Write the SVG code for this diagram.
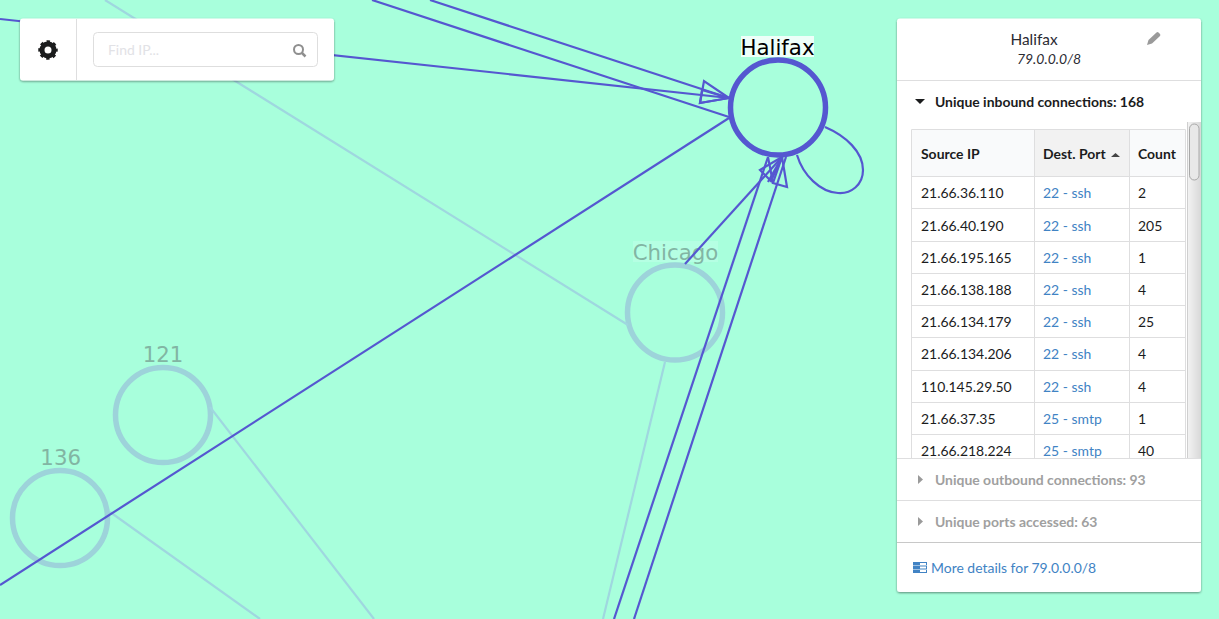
<svg xmlns="http://www.w3.org/2000/svg" width="1219" height="619" viewBox="0 0 1219 619">
<defs>
<filter id="sh" x="-5%" y="-5%" width="110%" height="110%"><feDropShadow dx="0" dy="1" stdDeviation="1.200" flood-color="#000" flood-opacity="0.45"/></filter>
<clipPath id="tbl"><rect x="897" y="120" width="304" height="338"/></clipPath>
<linearGradient id="sb" x1="0" x2="1" y1="0" y2="0"><stop offset="0" stop-color="#f4f4f4"/><stop offset="1" stop-color="#d8d8d8"/></linearGradient>
<style>
.bg{fill:#a8ffdc}
.dk{stroke:#5557d0;stroke-width:2.200;fill:none}
.lt{stroke:#9fd7df;stroke-width:2.200;fill:none}
.ah{stroke:#5557d0;stroke-width:2.200;fill:none;stroke-linejoin:miter}
.node-dim{fill:none;stroke:#9dd3da;stroke-width:5.500}
.node-hot{fill:none;stroke:#5557d0;stroke-width:5.500}
.lbl{font-family:"DejaVu Sans",sans-serif;font-size:21.300px;text-anchor:middle}
.dimtxt{fill:#82b5a3}
.ui{font-family:Lato,"Open Sans",sans-serif;font-size:13.950px;fill:#1b1c1d}
.b{font-weight:700}
.lnk{fill:#4183c4}
.g{fill:#a0a0a0;font-weight:700}
.card{fill:#fff}
.hr{stroke:#dededf;stroke-width:1;fill:none}
</style>
</defs>
<rect class="bg" width="1219" height="619"/>
<g id="node-chicago">
<rect x="633" y="241" width="85" height="21" fill="#b5ffe3"/>
<circle class="node-dim" cx="675" cy="312.500" r="47.500"/>
<text class="lbl dimtxt" x="675.500" y="260">Chicago</text>
</g>
<g id="node-121">
<circle class="node-dim" cx="163" cy="415" r="47.500"/>
<text class="lbl dimtxt" x="163" y="362">121</text>
</g>
<g id="node-136">
<circle class="node-dim" cx="60" cy="518" r="47.500"/>
<text class="lbl dimtxt" x="60.700" y="465">136</text>
</g>
<g id="connectors">
<line class="lt" x1="105" y1="0" x2="628" y2="325"/>
<line class="lt" x1="665" y1="362" x2="603" y2="619"/>
<line class="lt" x1="210" y1="407" x2="374" y2="619"/>
<line class="lt" x1="110" y1="512" x2="260" y2="619"/>
<line class="dk" x1="0" y1="19" x2="729" y2="98"/>
<line class="dk" x1="430" y1="0" x2="729" y2="98"/>
<line class="dk" x1="372" y1="0" x2="729" y2="117"/>
<line class="dk" x1="0" y1="585" x2="729" y2="118"/>
<line class="dk" x1="685" y1="264" x2="782" y2="157"/>
<line class="dk" x1="614" y1="619" x2="768" y2="157"/>
<line class="dk" x1="634" y1="619" x2="786" y2="157"/>
<path class="dk" d="M825 127C846 136 863 152 863 170C863 185 851 194 838 193C820 192 803 175 797 155"/>
<polygon class="ah" points="729,98 704,81 700,103"/>
<polygon class="ah" points="729,98 702,90 700,103"/>
<polygon class="ah" points="782,157 760,170 771,181"/>
<polygon class="ah" points="782,157 773,183 787,187"/>
<line class="ah" x1="782" y1="157" x2="768" y2="182"/>
<line class="ah" x1="768" y1="157" x2="773" y2="183"/>
</g>
<g id="node-halifax">
<rect x="741" y="36" width="73" height="21" fill="#eefff9"/>
<circle class="node-hot" cx="778" cy="107.500" r="47.500"/>
<text class="lbl" x="777.500" y="54.500" fill="#000">Halifax</text>
</g>
<g id="toolbar">
<rect class="card" x="20" y="18.500" width="314" height="62" rx="3" filter="url(#sh)"/>
<line class="hr" x1="76.500" y1="19" x2="76.500" y2="80"/>
<circle cx="48" cy="50" r="6" fill="none" stroke="#1b1c1d" stroke-width="5"/>
<circle cx="48" cy="50" r="8.500" fill="none" stroke="#1b1c1d" stroke-width="2.500" stroke-dasharray="3.340 3.340" stroke-dashoffset="1.670"/>
<rect x="93.500" y="32.500" width="224" height="34" rx="4" fill="#fff" stroke="#dedede"/>
<text class="ui" x="108" y="55" style="fill:#e2e2e6">Find IP...</text>
<circle cx="298.500" cy="49.500" r="4.500" fill="none" stroke="#8f8f8f" stroke-width="2"/><line x1="302" y1="53" x2="305.500" y2="56.500" stroke="#8f8f8f" stroke-width="2.500"/>
</g>
<g id="detail-panel">
<rect class="card" x="897" y="18.500" width="304" height="573.500" rx="3" filter="url(#sh)"/>
<text class="ui" x="1034" y="45" text-anchor="middle" style="fill:#2b2b33;font-size:15.400px">Halifax</text>
<text class="ui" x="1049" y="64" text-anchor="middle" font-style="italic" style="fill:#2b2b33">79.0.0.0/8</text>
<path d="M1147 45l1.500-5 8-7.500q1-.8 2 0l1.500 1.500q.8 1 0 2l-8 7.500z" fill="#9a9a9a"/>
<line class="hr" x1="897" y1="80.500" x2="1201" y2="80.500"/>
<path d="M915 99h10l-5 5z" fill="#1b1c1d"/>
<text class="ui b" x="935" y="107">Unique inbound connections: 168</text>
<g clip-path="url(#tbl)">
<rect x="1035" y="130" width="94" height="47" fill="#f2f2f2"/>
<rect x="912" y="130" width="123" height="47" fill="#f9fafb"/>
<rect x="1130" y="130" width="55" height="47" fill="#f9fafb"/>
<g class="hr">
<path d="M911.500 129.500H1185.500V470M911.500 129.500V470M1034.500 129.500V470M1129.500 129.500V470"/>
<path d="M912 176.500H1185M912 208.500H1185M912 241.500H1185M912 273.500H1185M912 305.500H1185M912 337.500H1185M912 370.500H1185M912 402.500H1185M912 434.500H1185"/>
</g>
<text class="ui b" x="921" y="159">Source IP</text>
<text class="ui b" x="1043" y="159">Dest. Port</text>
<path d="M1111 157l4.500-4 4.500 4z" fill="#444"/>
<text class="ui b" x="1138" y="159">Count</text>
<g class="ui">
<text x="921" y="198">21.66.36.110</text><text x="1043" y="198" class="lnk">22 - ssh</text><text x="1138" y="198">2</text>
<text x="921" y="231">21.66.40.190</text><text x="1043" y="231" class="lnk">22 - ssh</text><text x="1138" y="231">205</text>
<text x="921" y="263">21.66.195.165</text><text x="1043" y="263" class="lnk">22 - ssh</text><text x="1138" y="263">1</text>
<text x="921" y="295">21.66.138.188</text><text x="1043" y="295" class="lnk">22 - ssh</text><text x="1138" y="295">4</text>
<text x="921" y="327">21.66.134.179</text><text x="1043" y="327" class="lnk">22 - ssh</text><text x="1138" y="327">25</text>
<text x="921" y="359">21.66.134.206</text><text x="1043" y="359" class="lnk">22 - ssh</text><text x="1138" y="359">4</text>
<text x="921" y="392">110.145.29.50</text><text x="1043" y="392" class="lnk">22 - ssh</text><text x="1138" y="392">4</text>
<text x="921" y="424">21.66.37.35</text><text x="1043" y="424" class="lnk">25 - smtp</text><text x="1138" y="424">1</text>
<text x="921" y="456">21.66.218.224</text><text x="1043" y="456" class="lnk">25 - smtp</text><text x="1138" y="456">40</text>
</g>
<rect x="1187" y="122" width="14" height="338" fill="url(#sb)"/>
<line x1="1187.500" y1="122" x2="1187.500" y2="460" stroke="#cfcfcf"/>
<rect x="1189.500" y="124" width="9.500" height="56" rx="4.700" fill="#e8e8e8" stroke="#a8a8a8"/>
</g>
<line class="hr" x1="897" y1="458.500" x2="1201" y2="458.500"/>
<path d="M918 475l5 4.500-5 4.500z" fill="#9a9a9a"/>
<text class="ui g" x="935" y="485">Unique outbound connections: 93</text>
<line class="hr" x1="897" y1="500.500" x2="1201" y2="500.500"/>
<path d="M918 517l5 4.500-5 4.500z" fill="#9a9a9a"/>
<text class="ui g" x="935" y="527">Unique ports accessed: 63</text>
<line x1="897" y1="542.500" x2="1201" y2="542.500" stroke="#c8c8c8"/>
<path fill="#4183c4" fill-rule="evenodd" d="M913 562h14v11h-14zM913 565.500v.6h14v-.6zM913 569v.6h14v-.6zM920 563v2h6v-2zM920 566.500v2h6v-2zM920 570v2h6v-2z"/>
<text class="ui lnk" x="931" y="573">More details for 79.0.0.0/8</text>
</g>
</svg>
